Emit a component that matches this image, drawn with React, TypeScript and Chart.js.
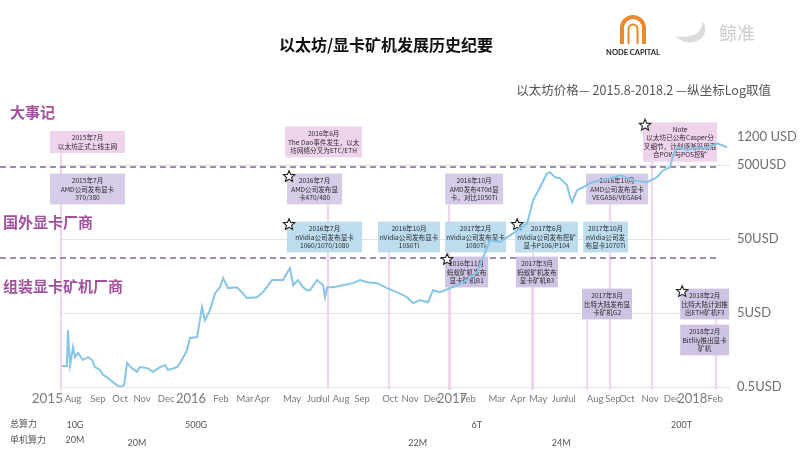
import React, { useEffect, useRef } from 'react';
import { Chart, registerables } from 'chart.js';

Chart.register(...registerables);

// x values: timeline position (roughly months since Jul 2015)
const priceMonths = [
  0.05, 0.28, 0.33, 0.43, 0.57, 0.66, 0.81, 1.04, 1.28, 1.47, 1.61, 1.85, 1.99, 2.23, 2.46, 2.65, 2.8, 2.99,
  3.13, 3.36, 3.6, 3.74, 4.08, 4.36, 4.69, 4.93, 5.07, 5.5, 5.73, 5.97, 6.11, 6.45, 6.68, 6.82, 7.06, 7.3,
  7.54, 7.68, 7.91, 8.34, 8.82, 9.29, 9.57, 10.0, 10.52, 10.85, 11.0, 11.23, 11.47, 11.66, 11.8, 12.13, 12.42,
  12.51, 12.61, 12.89, 13.36, 13.84, 14.17, 14.5, 14.98, 15.45, 15.92, 16.4, 16.68, 17.01, 17.39, 17.63, 17.96,
  18.44, 18.77, 19.24, 19.72, 19.95, 20.19, 20.33, 20.81, 21.42, 22.09, 22.37, 22.7, 23.03, 23.18, 23.41, 23.65,
  23.98, 24.12, 24.22, 24.45, 24.74, 25.07, 25.55, 26.02, 26.49, 27.11, 27.77, 28.25, 28.53, 28.86, 29.0, 29.19,
  29.67, 30.14, 30.62, 31.09, 31.56,
];
const priceUSD = [
  0.96, 0.96, 2.95, 0.99, 1.74, 1.27, 1.44, 1.16, 1.27, 1.16, 0.93, 0.85, 0.73, 0.66, 0.58, 0.53, 0.5, 0.53,
  1.06, 0.9, 0.8, 0.93, 0.9, 0.8, 0.93, 0.99, 0.85, 0.93, 1.16, 1.58, 2.3, 2.37, 6.0, 4.0, 5.5, 9.3,
  11.2, 14.9, 10.9, 11.2, 8.0, 8.2, 9.6, 14.0, 14.0, 20.3, 11.9, 14.0, 11.2, 10.2, 10.2, 14.0, 11.9,
  8.2, 11.2, 11.2, 11.9, 12.7, 14.0, 13.1, 12.7, 10.9, 9.6, 8.2, 6.8, 7.5, 7.0, 10.2, 9.6,
  10.9, 11.9, 14.0, 17.9, 26, 39, 48, 46, 60, 82, 168, 252, 390, 402, 344, 333,
  268, 185, 158, 230, 252, 286, 313, 333, 366, 313, 295, 344, 428, 470, 682, 875,
  797, 875, 849, 991, 875,
];

const xMonthLabels = [
  'Aug', 'Sep', 'Oct', 'Nov', 'Dec', '2016', 'Feb', 'Mar', 'Apr', 'May', 'Jun', 'Jul', 'Aug', 'Sep', 'Oct',
  'Nov', 'Dec', '2017', 'Feb', 'Mar', 'Apr', 'May', 'Jun', 'Jul', 'Aug', 'Sep', 'Oct', 'Nov', 'Dec', '2018', 'Feb',
];
// where each label sits on the timeline
const xTickAt = [
  0.57, 1.75, 2.8, 3.84, 4.98, 6.16, 7.58, 8.72, 9.53, 10.95, 11.99, 12.46, 13.27, 14.27, 15.59,
  16.54, 17.58, 18.53, 19.29, 20.66, 21.66, 22.61, 23.6, 24.12, 25.31, 26.16, 26.82, 27.91, 28.96, 29.91, 31.0,
];
const firstYearLabel = '2015';

const yTickValues = [0.5, 5, 50, 500, 1200];
const yTickLabels = ['0.5USD', '5USD', '50USD', '500USD', '1200 USD'];

const sectionLabels = ['大事记', '国外显卡厂商', '组装显卡矿机厂商'];

const hashTotalLabels = ['10G', '500G', '6T', '200T'];
const hashTotalAt = [0.66, 6.4, 19.7, 29.4];
const hashRigLabels = ['20M', '20M', '22M', '24M'];
const hashRigAt = [0.66, 3.6, 16.9, 23.7];

type Ev = { line: number | null; from: number; to: number; row: number; kind: string; star: boolean; text: string[] };
const events: Ev[] = [
  { line: 0, from: -0.52, to: 3.03, row: 0, kind: 'major', star: false, text: ['2015年7月', '以太坊正式上线主网'] },
  { line: 0, from: -0.52, to: 3.03, row: 1, kind: 'amd', star: false, text: ['2015年7月', 'AMD公司发布显卡', '370/380'] },
  { line: null, from: 10.62, to: 14.27, row: 0, kind: 'major', star: false, text: ['2016年6月', 'The Dao事件发生，以太', '坊网络分叉为ETC/ETH'] },
  { line: 12.65, from: 10.71, to: 13.32, row: 1, kind: 'amd', star: true, text: ['2016年7月', 'AMD公司发布显', '卡470/480'] },
  { line: 12.65, from: 10.71, to: 14.27, row: 2, kind: 'nvidia', star: true, text: ['2016年7月', 'nVidia公司发布显卡', '1060/1070/1080'] },
  { line: 15.55, from: 15.02, to: 17.96, row: 2, kind: 'nvidia', star: false, text: ['2016年10月', 'nVidia公司发布显卡', '1050Ti'] },
  { line: 18.39, from: 18.2, to: 20.95, row: 1, kind: 'amd', star: false, text: ['2016年10月', 'AMD发布470d显', '卡，对比1050Ti'] },
  { line: 18.39, from: 18.2, to: 21.09, row: 2, kind: 'nvidia', star: false, text: ['2017年2月', 'nVidia公司发布显卡', '1080Ti'] },
  { line: 18.44, from: 18.2, to: 20.24, row: 3, kind: 'rig', star: true, text: ['2016年11月', '蚂蚁矿机发布', '显卡矿机B1'] },
  { line: 22.37, from: 21.52, to: 24.5, row: 2, kind: 'nvidia', star: true, text: ['2017年6月', 'nVidia公司发布挖矿', '显卡P106/P104'] },
  { line: 22.32, from: 21.56, to: 23.55, row: 3, kind: 'rig', star: false, text: ['2017年3月', '蚂蚁矿机发布', '显卡矿机B3'] },
  { line: 26.02, from: 24.74, to: 26.87, row: 2, kind: 'nvidia', star: false, text: ['2017年10月', 'nVidia公司发', '布显卡1070Ti'] },
  { line: 26.02, from: 24.88, to: 27.82, row: 1, kind: 'amd', star: false, text: ['2016年10月', 'AMD公司发布显卡', 'VEGA56/VEGA64'] },
  { line: 24.93, from: 24.69, to: 27.06, row: 4, kind: 'rig', star: false, text: ['2017年8月', '比特大陆发布显', '卡矿机G2'] },
  { line: 28.0, from: 27.58, to: 31.09, row: 0, kind: 'major', star: true, text: ['Note', '以太坊已公布Casper分', '叉细节，计划逐渐采用混', '合POW与POS挖矿'] },
  { line: 31.04, from: 29.34, to: 31.66, row: 4, kind: 'rig', star: true, text: ['2018年2月', '比特大陆计划推', '出ETH矿机F3'] },
  { line: 31.04, from: 29.34, to: 31.66, row: 5, kind: 'rig', star: false, text: ['2018年2月', 'Bitfily推出显卡', '矿机'] },
];

const CJK = '"Noto Sans CJK SC", "Noto Sans", sans-serif';
const LAT = 'Lato, "Open Sans", sans-serif';
const rowCenters = [142, 189, 237, 272, 304, 340];
const kindFill: Record<string, string> = {
  major: '#eed3ed',
  amd: '#d6cce7',
  nvidia: '#bddcee',
  rig: '#cfc3e4',
};
const isYear = (lab: string) => /^\d{4}$/.test(lab);
const LABEL_BASE = 403;

function boxRect(ev: Ev, x: any) {
  const l = x.getPixelForValue(ev.from);
  const r = x.getPixelForValue(ev.to);
  const h = ev.text.length * 8.6 + 5;
  const y = rowCenters[ev.row] - h / 2;
  return { l, r, y, h };
}

function drawStar(ctx: CanvasRenderingContext2D, cx: number, cy: number, R: number) {
  const r = R * 0.45;
  ctx.beginPath();
  for (let i = 0; i < 10; i++) {
    const a = -Math.PI / 2 + (i * Math.PI) / 5;
    const rad = i % 2 === 0 ? R : r;
    const px = cx + rad * Math.cos(a);
    const py = cy + rad * Math.sin(a);
    if (i === 0) ctx.moveTo(px, py);
    else ctx.lineTo(px, py);
  }
  ctx.closePath();
  ctx.fillStyle = '#ffffff';
  ctx.fill();
  ctx.strokeStyle = '#222';
  ctx.lineWidth = 1.1;
  ctx.stroke();
}

const decorPlugin = {
  id: 'decor',
  beforeDatasetsDraw(chart: any) {
    const { ctx, chartArea } = chart;
    const x = chart.scales.x;
    ctx.save();
    // vertical event lines
    ctx.strokeStyle = '#efd5ee';
    ctx.lineWidth = 2;
    events.forEach((ev) => {
      if (ev.line === null) return;
      const px = x.getPixelForValue(ev.line);
      const b = boxRect(ev, x);
      ctx.beginPath();
      ctx.moveTo(px, b.y + b.h);
      ctx.lineTo(px, chartArea.bottom + 3);
      ctx.stroke();
    });
    // dashed separators
    ctx.setLineDash([6, 4]);
    ctx.strokeStyle = '#80649c';
    ctx.lineWidth = 1.6;
    const xEnd = x.getPixelForValue(31.1);
    [167, 258].forEach((yy) => {
      ctx.beginPath();
      ctx.moveTo(0, yy);
      ctx.lineTo(xEnd, yy);
      ctx.stroke();
    });
    ctx.setLineDash([]);
    // boxes
    events.forEach((ev) => {
      const b = boxRect(ev, x);
      ctx.fillStyle = kindFill[ev.kind];
      ctx.fillRect(b.l, b.y, b.r - b.l, b.h);
      ctx.fillStyle = '#2b2b2b';
      ctx.font = `6.6px ${CJK}`;
      ctx.textAlign = 'center';
      ctx.textBaseline = 'middle';
      const cx = (b.l + b.r) / 2;
      ev.text.forEach((t, i) => {
        ctx.fillText(t, cx, b.y + 2.5 + 4.3 + i * 8.6);
      });
      if (ev.star) drawStar(ctx, b.l + 2, b.y + 3, 6);
    });
    ctx.restore();
  },
  afterDraw(chart: any) {
    const { ctx, chartArea } = chart;
    const x = chart.scales.x;
    ctx.save();
    // title
    ctx.fillStyle = '#111';
    ctx.font = `bold 16px ${CJK}`;
    ctx.textAlign = 'center';
    ctx.textBaseline = 'middle';
    ctx.fillText('以太坊/显卡矿机发展历史纪要', 386, 45);
    // subtitle
    ctx.fillStyle = '#555';
    ctx.font = `12.5px ${CJK}`;
    ctx.textAlign = 'right';
    ctx.fillText('以太坊价格— 2015.8-2018.2 —纵坐标Log取值', 771, 90);
    // logo
    ctx.strokeStyle = '#ea8a2c';
    ctx.lineWidth = 4;
    ctx.beginPath();
    ctx.moveTo(622, 44);
    ctx.lineTo(622, 28);
    ctx.arc(633, 28, 11, Math.PI, 0);
    ctx.lineTo(644, 44);
    ctx.stroke();
    ctx.lineWidth = 2;
    ctx.beginPath();
    ctx.moveTo(628.5, 44);
    ctx.lineTo(628.5, 29);
    ctx.arc(633, 29, 4.5, Math.PI, 0);
    ctx.lineTo(637.5, 44);
    ctx.stroke();
    ctx.fillStyle = '#222';
    ctx.font = `bold 7.5px ${LAT}`;
    ctx.textAlign = 'center';
    ctx.fillText('NODE CAPITAL', 633, 53);
    // watermark brand (whale + text)
    ctx.fillStyle = '#dcdcdc';
    ctx.beginPath();
    ctx.moveTo(675, 36);
    ctx.quadraticCurveTo(688, 48, 702, 38);
    ctx.quadraticCurveTo(708, 30, 703, 21);
    ctx.quadraticCurveTo(702, 31, 694, 35);
    ctx.quadraticCurveTo(684, 38, 675, 36);
    ctx.fill();
    ctx.fillStyle = '#cfcfcf';
    ctx.font = `18px ${CJK}`;
    ctx.textAlign = 'left';
    ctx.fillText('鲸准', 719, 33);
    // section labels
    ctx.fillStyle = '#a3509e';
    ctx.font = `bold 15px ${CJK}`;
    ctx.textAlign = 'left';
    ctx.fillText(sectionLabels[0], 10, 112);
    ctx.fillText(sectionLabels[1], 3, 222);
    ctx.fillText(sectionLabels[2], 3, 286);
    // year labels on the time axis (baseline-aligned with month ticks)
    ctx.fillStyle = '#7a7a7a';
    ctx.textBaseline = 'alphabetic';
    ctx.font = `13.5px ${LAT}`;
    ctx.textAlign = 'right';
    ctx.fillText(firstYearLabel, chartArea.left + 2, LABEL_BASE);
    ctx.font = `13px ${LAT}`;
    ctx.textAlign = 'center';
    xMonthLabels.forEach((lab, i) => {
      if (isYear(lab)) ctx.fillText(lab, x.getPixelForValue(xTickAt[i]), LABEL_BASE);
    });
    // hash rate rows
    ctx.textBaseline = 'middle';
    ctx.fillStyle = '#555';
    ctx.font = `9px ${CJK}`;
    ctx.textAlign = 'left';
    ctx.fillText('总算力', 10, 424);
    ctx.fillText('单机算力', 10, 440);
    ctx.font = `9px ${LAT}`;
    ctx.textAlign = 'center';
    hashTotalLabels.forEach((t, i) => ctx.fillText(t, x.getPixelForValue(hashTotalAt[i]), 425));
    hashRigLabels.forEach((t, i) => ctx.fillText(t, x.getPixelForValue(hashRigAt[i]), i === 0 ? 440 : 443));
    ctx.restore();
  },
};

export default function App() {
  const ref = useRef<HTMLCanvasElement | null>(null);
  useEffect(() => {
    if (!ref.current) return;
    const chart = new Chart(ref.current, {
      type: 'line',
      data: {
        datasets: [
          {
            data: priceMonths.map((m, i) => ({ x: m, y: priceUSD[i] })),
            borderColor: '#86c5e8',
            borderWidth: 2,
            pointRadius: 0,
            tension: 0,
            fill: false,
          },
        ],
      },
      options: {
        animation: false,
        responsive: true,
        maintainAspectRatio: false,
        layout: { padding: { left: 61, top: 130, right: 0, bottom: 43 } },
        plugins: { legend: { display: false }, tooltip: { enabled: false } },
        scales: {
          x: {
            type: 'linear',
            min: 0,
            max: 31.7,
            grid: { display: false, drawTicks: false },
            border: { display: false },
            afterBuildTicks: (s: any) => {
              s.ticks = xTickAt.map((v) => ({ value: v }));
            },
            afterFit: (s: any) => {
              s.height = 20;
            },
            ticks: {
              autoSkip: false,
              maxRotation: 0,
              minRotation: 0,
              padding: 6,
              color: '#7a7a7a',
              callback: (_v: any, i: number) => {
                const lab = xMonthLabels[i] ?? '';
                return isYear(lab) ? '' : lab;
              },
              font: { family: LAT, size: 9.5 },
            },
          },
          y: {
            type: 'logarithmic',
            position: 'right',
            min: 0.5,
            max: 1500,
            afterBuildTicks: (s: any) => {
              s.ticks = yTickValues.map((v) => ({ value: v }));
            },
            afterFit: (s: any) => {
              s.width = 70;
            },
            grid: {
              drawTicks: false,
              lineWidth: 1,
              color: (c: any) => (c.tick && c.tick.value === 1200 ? 'rgba(0,0,0,0)' : '#e3e3e3'),
            },
            border: { display: false },
            ticks: {
              padding: 7,
              color: '#6f6f6f',
              font: { family: LAT, size: 13 },
              callback: (v: any) => {
                const i = yTickValues.indexOf(Number(v));
                return i >= 0 ? yTickLabels[i] : '';
              },
            },
          },
        },
      },
      plugins: [decorPlugin],
    } as any);
    return () => chart.destroy();
  }, []);
  return (
    <div style={{ position: 'fixed', left: 0, top: 0, width: 800, height: 450, background: '#fff' }}>
      <canvas ref={ref} />
    </div>
  );
}
